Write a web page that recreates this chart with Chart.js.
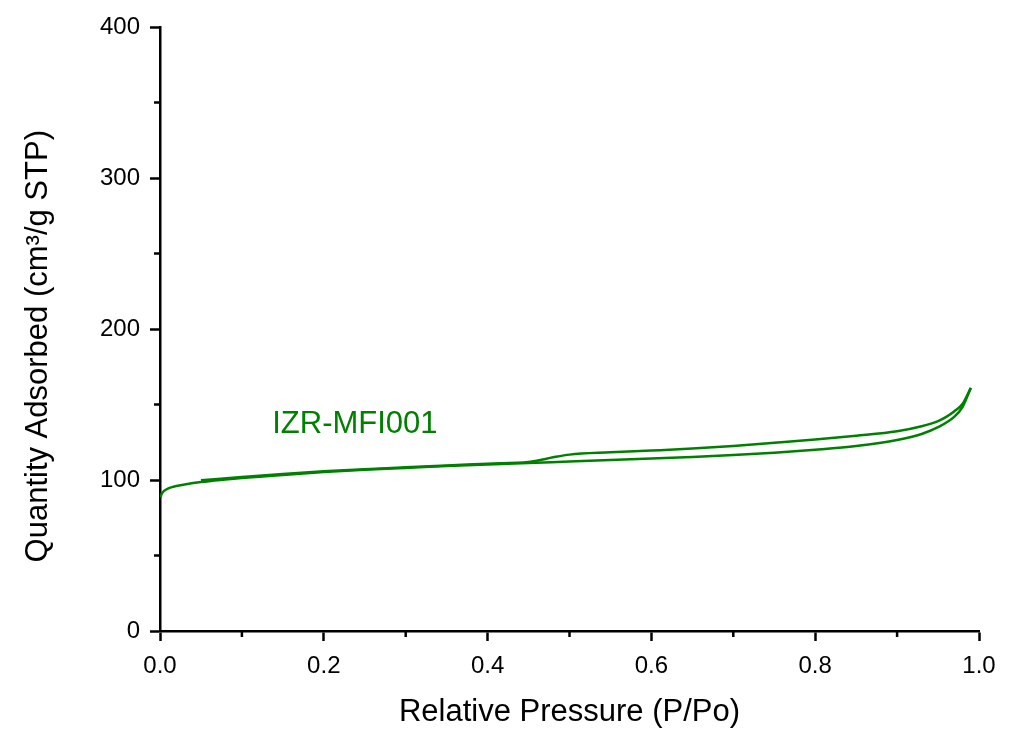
<!DOCTYPE html>
<html>
<head>
<meta charset="utf-8">
<script src="https://cdn.jsdelivr.net/npm/chart.js@4/dist/chart.umd.min.js"></script>
<style>
  html, body { margin: 0; padding: 0; background: #fff; }
</style>
</head>
<body>
<canvas id="chart1" width="1017" height="739"></canvas>
<script>
// adsorption branch (lower)
const adsP = [0.0005, 0.002, 0.005, 0.01, 0.02, 0.03, 0.05, 0.08, 0.1, 0.15, 0.2, 0.25, 0.3, 0.35, 0.4, 0.45,
              0.5, 0.55, 0.6, 0.65, 0.7, 0.75, 0.8, 0.85, 0.9, 0.93, 0.95, 0.97, 0.98, 0.99];
const adsV = [88.5, 90.8, 92.8, 94.4, 96, 97, 98.6, 100.3, 101.3, 103.3, 105.3, 106.8, 108, 109.2, 110.3, 111.2,
              112.3, 113.3, 114.3, 115.3, 116.5, 118, 120, 122.5, 126.5, 130.5, 135, 142, 148.5, 161];

// desorption branch (upper), listed from low to high pressure
const desP = [0.05, 0.1, 0.15, 0.2, 0.25, 0.3, 0.35, 0.4, 0.45, 0.46, 0.48, 0.5, 0.55, 0.6, 0.65, 0.7,
              0.75, 0.8, 0.85, 0.9, 0.93, 0.95, 0.96, 0.97, 0.98, 0.99];
const desV = [99.8, 102, 104, 105.8, 107.2, 108.4, 109.6, 110.8, 112, 112.8, 115, 116.8, 118.3, 119.5, 120.8, 122.5,
              124.6, 126.8, 129.3, 132.3, 135.6, 139, 141.8, 145.5, 150.5, 161];

const xTicks = [0, 0.2, 0.4, 0.6, 0.8, 1.0];
const yTicks = [0, 100, 200, 300, 400];
const minorX = [0.1, 0.3, 0.5, 0.7, 0.9];
const minorY = [50, 150, 250, 350];

const seriesName = 'IZR-MFI001';
const green = '#008000';

Chart.defaults.font.family = "'Liberation Sans', Arial, sans-serif";
Chart.defaults.color = '#000';

const toPoints = (xs, ys) => xs.map((x, i) => ({ x: x, y: ys[i] }));

const ctx = document.getElementById('chart1').getContext('2d');

new Chart(ctx, {
    type: 'line',
    data: {
        datasets: [{
            label: seriesName + ' ads',
            data: toPoints(adsP, adsV),
            borderColor: green,
            borderWidth: 2.5,
            pointRadius: 0,
            cubicInterpolationMode: 'monotone',
            fill: false
        }, {
            label: seriesName + ' des',
            data: toPoints(desP, desV),
            borderColor: green,
            borderWidth: 2.5,
            pointRadius: 0,
            cubicInterpolationMode: 'monotone',
            fill: false
        }]
    },
    options: {
        responsive: false,
        animation: false,
        layout: {
            padding: { top: 27, right: 38, left: 0, bottom: 0 }
        },
        plugins: {
            legend: { display: false },
            tooltip: { enabled: false }
        },
        scales: {
            x: {
                type: 'linear',
                min: 0,
                max: 1,
                afterFit: function(scale) { scale.height = 108; },
                afterBuildTicks: function(scale) { scale.ticks = xTicks.map(v => ({ value: v })); },
                border: { display: true, color: '#000', width: 2.5 },
                grid: {
                    drawOnChartArea: false,
                    drawTicks: true,
                    tickLength: 10,
                    tickWidth: 2.5,
                    tickColor: '#000'
                },
                ticks: {
                    padding: 11,
                    maxRotation: 0,
                    font: { size: 24 },
                    color: '#000',
                    callback: v => v.toFixed(1)
                },
                title: {
                    display: true,
                    text: 'Relative Pressure (P/Po)',
                    font: { size: 31 },
                    color: '#000',
                    padding: { top: 0, bottom: 8 }
                }
            },
            y: {
                min: 0,
                max: 400,
                afterFit: function(scale) { scale.width = 160; },
                afterBuildTicks: function(scale) { scale.ticks = yTicks.map(v => ({ value: v })); },
                border: { display: true, color: '#000', width: 2.5 },
                grid: {
                    drawOnChartArea: false,
                    drawTicks: true,
                    tickLength: 10,
                    tickWidth: 2.5,
                    tickColor: '#000'
                },
                ticks: {
                    padding: 10,
                    font: { size: 24 },
                    color: '#000',
                    callback: v => String(v)
                },
                title: {
                    display: true,
                    text: 'Quantity Adsorbed (cm³/g STP)    ',
                    font: { size: 31 },
                    color: '#000',
                    padding: { top: 20, bottom: 0 }
                }
            }
        }
    },
    plugins: [{
        id: 'minorTicksAndLabel',
        afterDraw: function(chart) {
            const c = chart.ctx;
            const xs = chart.scales.x;
            const ys = chart.scales.y;
            c.save();
            c.strokeStyle = '#000';
            c.lineWidth = 2.5;
            // minor ticks
            c.beginPath();
            minorX.forEach(v => {
                const px = xs.getPixelForValue(v);
                c.moveTo(px, ys.bottom);
                c.lineTo(px, ys.bottom + 6);
            });
            minorY.forEach(v => {
                const py = ys.getPixelForValue(v);
                c.moveTo(xs.left, py);
                c.lineTo(xs.left - 6, py);
            });
            c.stroke();

            // series label
            c.fillStyle = green;
            c.font = "31px 'Liberation Sans', Arial, sans-serif";
            c.textAlign = 'left';
            c.textBaseline = 'middle';
            c.fillText(seriesName, xs.getPixelForValue(0.137), ys.getPixelForValue(136.5));
            c.restore();
        }
    }]
});
</script>
</body>
</html>
